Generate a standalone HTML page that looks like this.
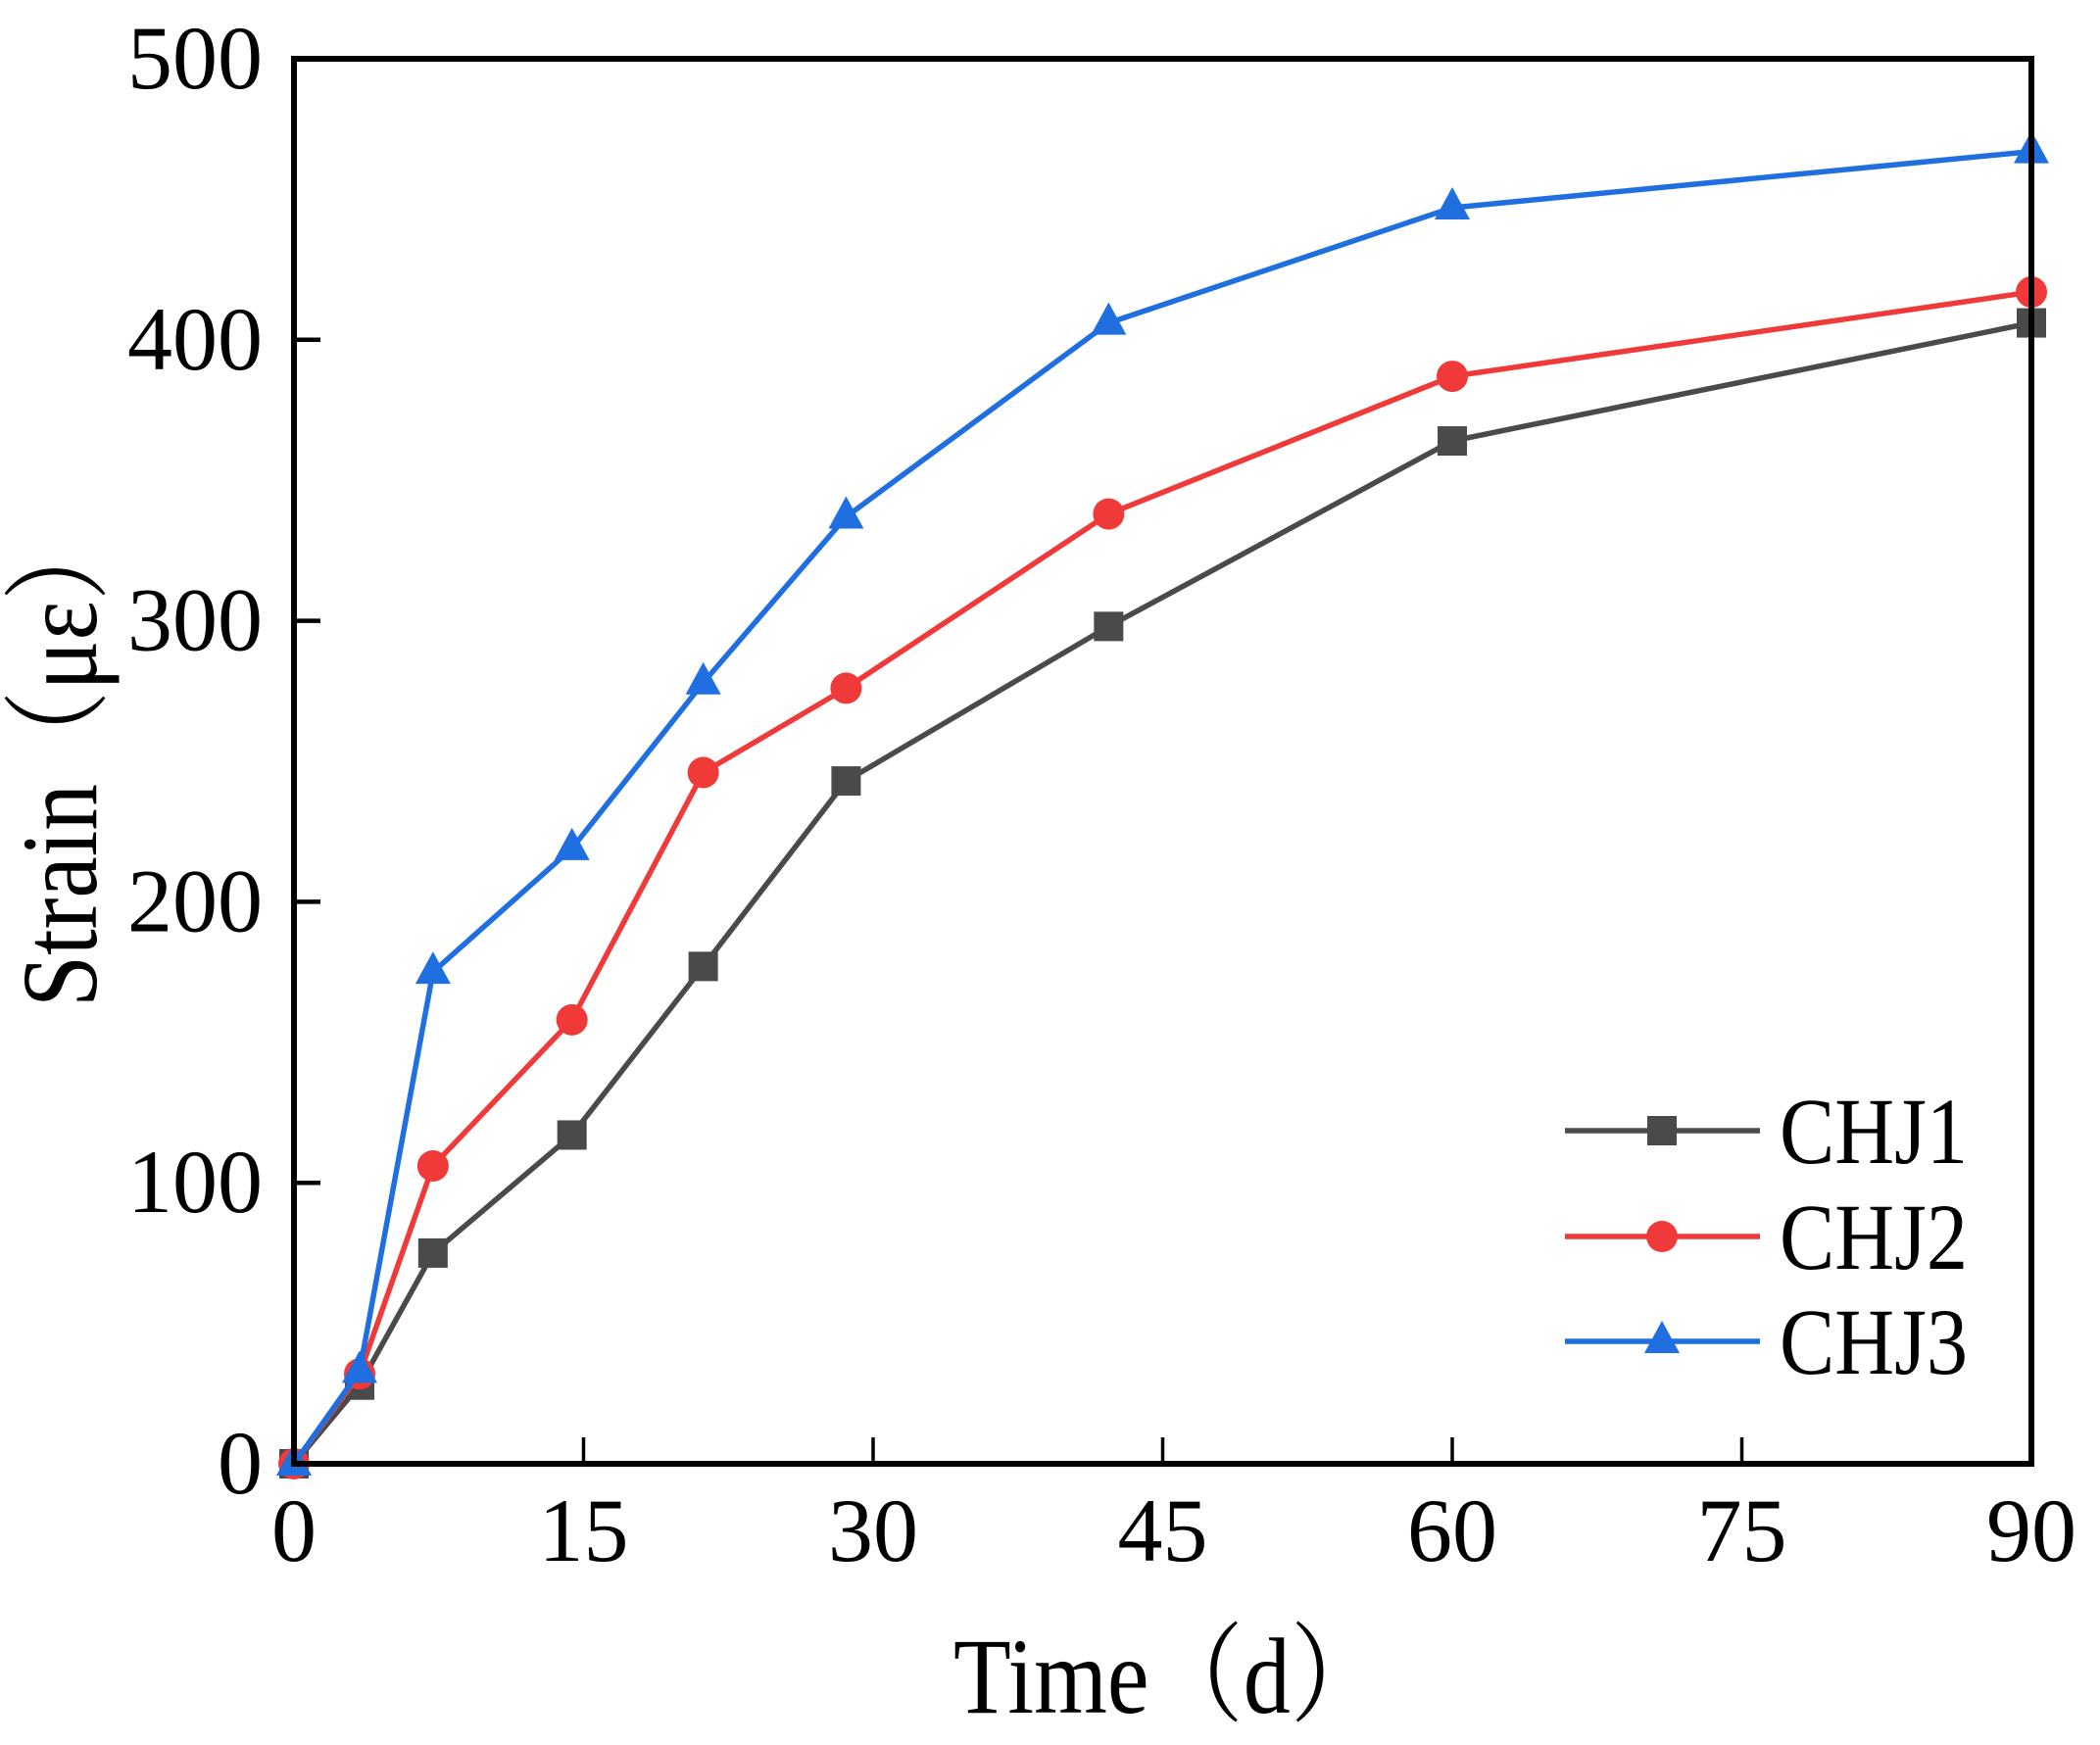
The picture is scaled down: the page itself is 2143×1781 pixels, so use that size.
<!DOCTYPE html>
<html><head><meta charset="utf-8"><style>
html,body{margin:0;padding:0;background:#fff}
svg{display:block}
text{font-family:"Liberation Serif","Noto Serif CJK SC",serif;fill:#000}
</style></head><body>
<svg id="chart" width="2143" height="1781" viewBox="0 0 2143 1781">
<g id="plot"></g>
</svg>
<script>
const days = [0, 3.4, 7.2, 14.4, 21.2, 28.6, 42.2, 60, 90];
const chj1 = [0, 28, 75, 117, 177, 243, 298, 364, 406];
const chj2 = [0, 32, 106, 158, 246, 276, 338, 387, 417];
const chj3 = [0, 33, 175, 219, 278, 337, 406, 447, 467];
const xTicks = [0, 15, 30, 45, 60, 75, 90];
const yTicks = [0, 100, 200, 300, 400, 500];
const seriesNames = ['CHJ1', 'CHJ2', 'CHJ3'];

const L = 300, R = 2073, T = 60, B = 1494;
const X = d => L + d * (R - L) / 90;
const Y = v => B - v * (B - T) / 500;
const NS = 'http://www.w3.org/2000/svg';
const g = document.getElementById('plot');
function mk(tag, attrs, parent) {
  const e = document.createElementNS(NS, tag);
  for (const k in attrs) e.setAttribute(k, attrs[k]);
  (parent || g).appendChild(e);
  return e;
}
const colors = ['#4a4a4a', '#f03a3a', '#1f6fe0'];
const allData = [chj1, chj2, chj3];

function marker(kind, cx, cy, color, name) {
  let m;
  if (kind === 0) m = mk('rect', {x: cx - 15, y: cy - 15, width: 30, height: 30, fill: color});
  else if (kind === 1) m = mk('circle', {cx: cx, cy: cy, r: 16, fill: color});
  else m = mk('polygon', {points: `${cx},${cy - 21} ${cx - 18},${cy + 12} ${cx + 18},${cy + 12}`, fill: color});
  
  
}

allData.forEach((arr, s) => {
  const pts = arr.map((v, i) => X(days[i]) + ',' + Y(v)).join(' ');
  const pl = mk('polyline', {points: pts, fill: 'none', stroke: colors[s], 'stroke-width': 5.5});
  
  
  arr.forEach((v, i) => marker(s, X(days[i]), Y(v), colors[s], 'point-' + seriesNames[s].toLowerCase()));
});

const fr = mk('rect', {x: L, y: T, width: R - L, height: B - T, fill: 'none', stroke: '#000', 'stroke-width': 6});



xTicks.forEach(t => {
  const tk = mk('line', {x1: X(t), x2: X(t), y1: B, y2: B - 27, stroke: '#000', 'stroke-width': 3.5});
  
  
  const tl = mk('text', {x: X(t), y: 1593, 'text-anchor': 'middle', 'font-size': 92});
  tl.textContent = t;
  
  
});
yTicks.forEach(t => {
  const tk = mk('line', {x1: L, x2: L + 27, y1: Y(t), y2: Y(t), stroke: '#000', 'stroke-width': 4.5});
  
  
  const tl = mk('text', {x: 268, y: Y(t) + 30, 'text-anchor': 'end', 'font-size': 92});
  tl.textContent = t;
  
  
});

const xt = mk('text', {x: 973, y: 1748, 'font-size': 110, textLength: 440, lengthAdjust: 'spacingAndGlyphs'});
xt.textContent = 'Time（d）';


const yt = mk('text', {x: -226, y: 0, 'font-size': 110, textLength: 510, lengthAdjust: 'spacingAndGlyphs', transform: 'translate(98,802) rotate(-90)'});
yt.textContent = 'Strain（με）';



const legY = [1154, 1262, 1369];
seriesNames.forEach((n, s) => {
  const ln = mk('line', {x1: 1597, x2: 1796, y1: legY[s], y2: legY[s], stroke: colors[s], 'stroke-width': 5.5});
  
  
  marker(s, 1696, legY[s], colors[s], 'legend-marker-' + n.toLowerCase());
  const tx = mk('text', {x: 1816, y: legY[s] + 33, 'font-size': 96, textLength: 192, lengthAdjust: 'spacingAndGlyphs'});
  tx.textContent = n;
  
  
});
</script>
</body></html>
